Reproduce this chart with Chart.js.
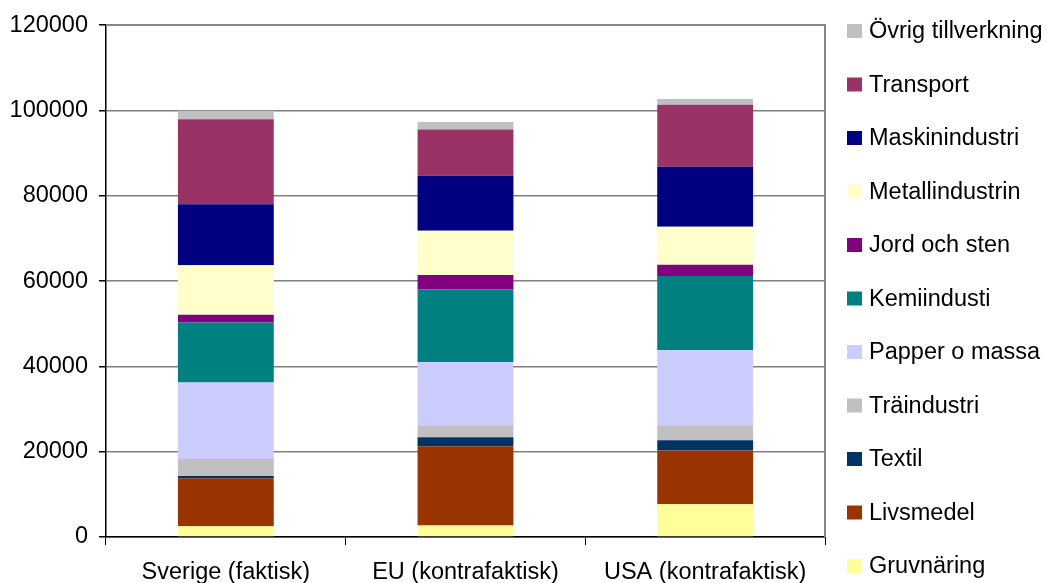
<!DOCTYPE html>
<html>
<head>
<meta charset="utf-8">
<script src="https://cdn.jsdelivr.net/npm/chart.js@4/dist/chart.umd.min.js"></script>
<style>
  html, body { margin:0; padding:0; background:#fff; }
  #wrap { width:1047px; height:583px; }
</style>
</head>
<body>
<div id="wrap"><canvas id="chart"></canvas></div>
<script>
// Förädlingsvärde per bransch, staplat per region
const regions = ['Sverige (faktisk)', 'EU (kontrafaktisk)', 'USA (kontrafaktisk)'];

const gruvnaring   = [2500, 2700, 7700];
const livsmedel    = [11300, 18600, 12600];
const textil       = [500, 2100, 2400];
const traindustri  = [4000, 2800, 3500];
const papper       = [17900, 14800, 17600];
const kemi         = [14100, 17100, 17400];
const jordSten     = [1800, 3300, 2600];
const metall       = [11600, 10400, 8900];
const maskin       = [14300, 12900, 14100];
const transport    = [19900, 10800, 14500];
const ovrig        = [2000, 1800, 1400];

const yTicks = [0, 20000, 40000, 60000, 80000, 100000, 120000];

const FONT = { family: '"Liberation Sans", Arial, sans-serif', size: 23.5 };

function ds(label, data, color){
  return { label, data, backgroundColor: color, borderWidth: 0 };
}

const datasets = [
  ds('Gruvnäring', gruvnaring, '#FFFF99'),
  ds('Livsmedel', livsmedel, '#993300'),
  ds('Textil', textil, '#003366'),
  ds('Träindustri', traindustri, '#C0C0C0'),
  ds('Papper o massa', papper, '#CCCCFF'),
  ds('Kemiindusti', kemi, '#008080'),
  ds('Jord och sten', jordSten, '#800080'),
  ds('Metallindustrin', metall, '#FFFFCC'),
  ds('Maskinindustri', maskin, '#000080'),
  ds('Transport', transport, '#993366'),
  ds('Övrig tillverkning', ovrig, '#C0C0C0'),
];

// plot frame (top + right edge) and the legend to the right
const frameAndLegend = {
  id: 'frameAndLegend',
  afterDraw(chart){
    const { ctx, chartArea: a } = chart;
    ctx.save();
    ctx.strokeStyle = '#888';
    ctx.lineWidth = 2;
    ctx.beginPath();
    ctx.moveTo(a.left, a.top);
    ctx.lineTo(a.right, a.top);
    ctx.lineTo(a.right, a.bottom);
    ctx.stroke();

    ctx.font = `${FONT.size}px ${FONT.family}`;
    ctx.textBaseline = 'middle';
    const items = chart.data.datasets.slice().reverse();
    items.forEach((d, i) => {
      const y = 31 + i * 53.5;
      ctx.fillStyle = d.backgroundColor;
      ctx.fillRect(847, y - 7, 15, 14);
      ctx.fillStyle = '#000';
      ctx.fillText(d.label, 869, y + 1);
    });
    ctx.restore();
  }
};

new Chart(document.getElementById('chart'), {
  type: 'bar',
  data: { labels: regions, datasets },
  plugins: [frameAndLegend],
  options: {
    responsive: true,
    maintainAspectRatio: false,
    animation: false,
    layout: { padding: { top: 23, right: 222, left: 0, bottom: 0 } },
    datasets: { bar: { barPercentage: 0.4, categoryPercentage: 1 } },
    plugins: { legend: { display: false }, tooltip: { enabled: false } },
    scales: {
      x: {
        stacked: true,
        afterFit(s){ s.height = 46; },
        grid: { drawOnChartArea: false, drawTicks: true, tickLength: 8, tickColor: '#000', offset: true },
        border: { color: '#000', width: 1.5 },
        ticks: { color: '#000', font: FONT, padding: 13, maxRotation: 0 }
      },
      y: {
        stacked: true,
        min: 0, max: 120000,
        afterFit(s){ s.width = 106; },
        afterBuildTicks(s){ s.ticks = yTicks.map(v => ({ value: v })); },
        grid: { color: '#808080', lineWidth: 1.5, tickLength: 7, tickColor: '#000' },
        border: { color: '#000', width: 1.5 },
        ticks: { color: '#000', font: FONT, padding: 11, callback: v => String(v) }
      }
    }
  }
});
</script>
</body>
</html>
